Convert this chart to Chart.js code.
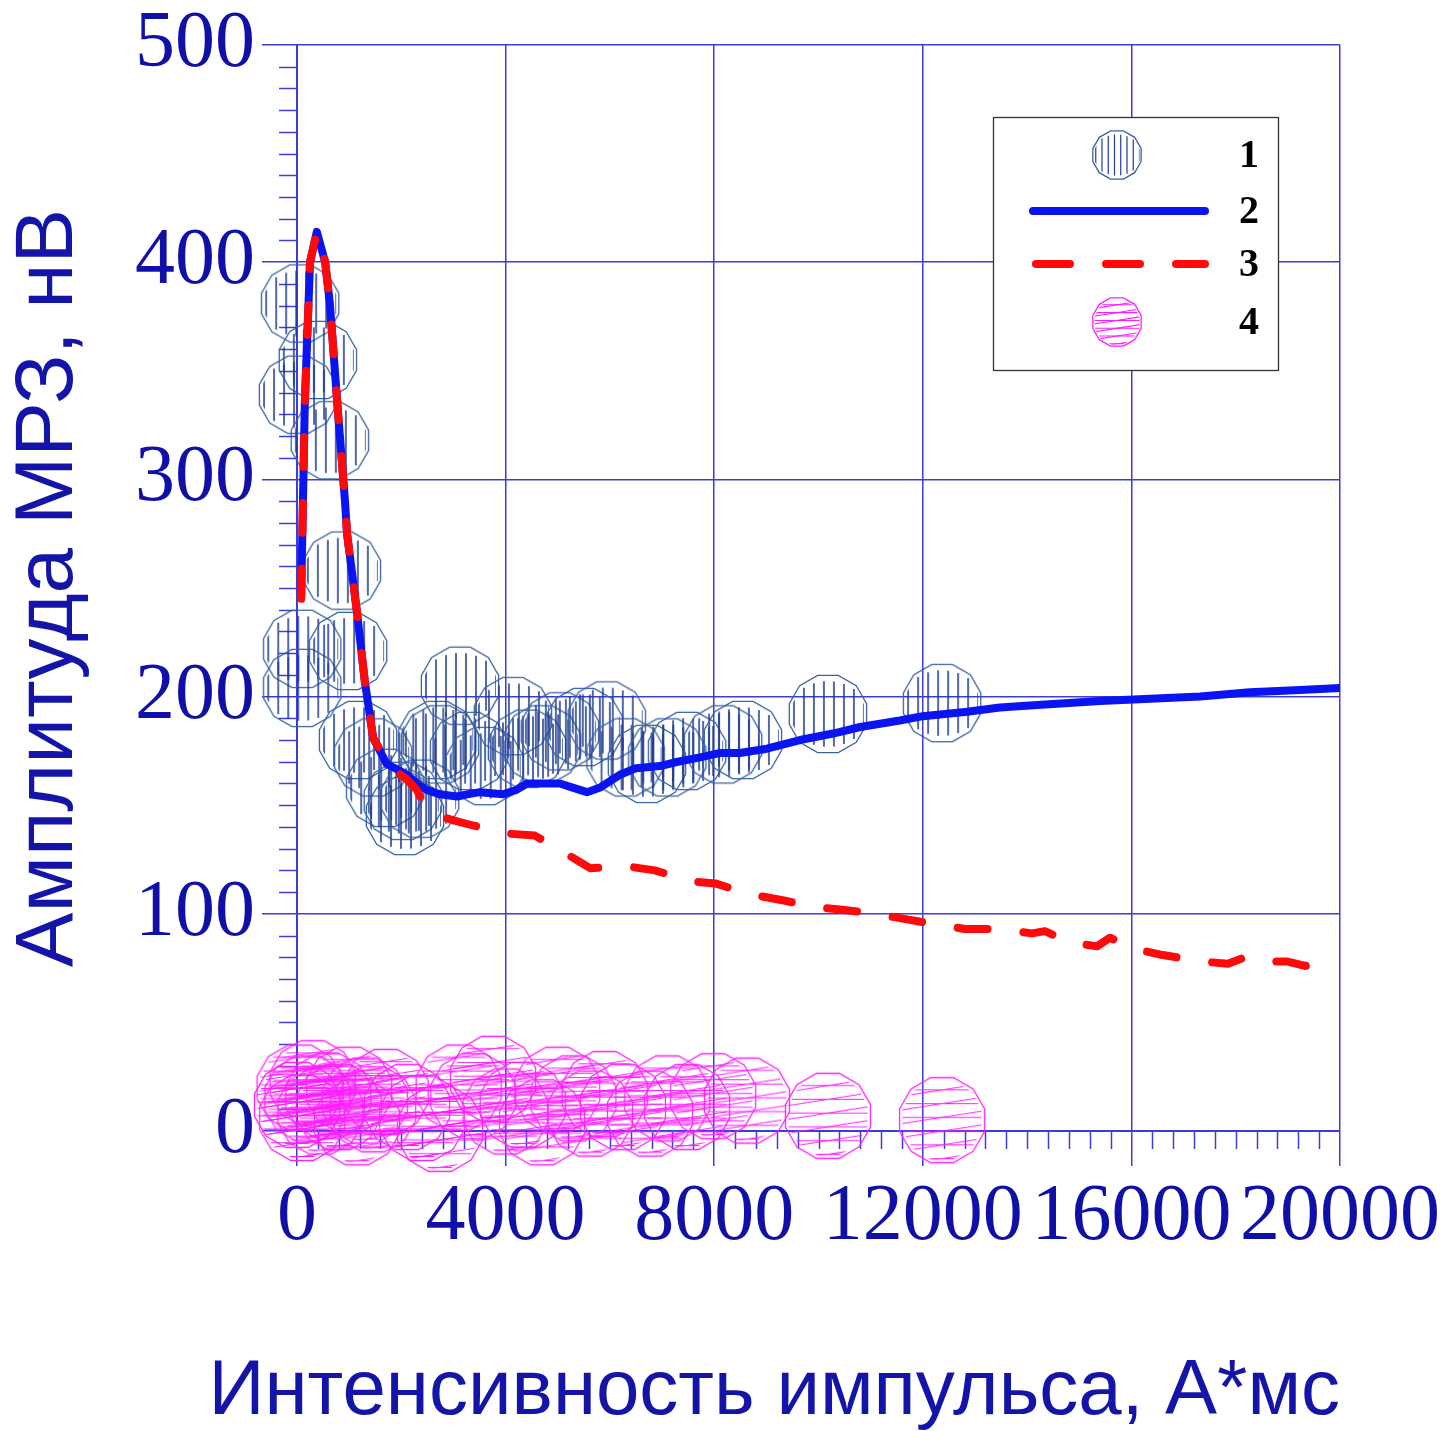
<!DOCTYPE html>
<html><head><meta charset="utf-8">
<script src="https://cdn.jsdelivr.net/npm/chart.js@4.4.1/dist/chart.umd.min.js"></script>
<style>html,body{margin:0;padding:0;background:#fff;}</style>
</head><body>
<canvas id="c" width="1441" height="1431"></canvas>
<script>
// ---- data ----
const xTitle = "Интенсивность импульса, А*мс";
const yTitle = "Амплитуда МРЗ, нВ";
const legendLabels = ["1", "2", "3", "4"];
const xRange = [0, 20000], xStep = 4000, xMinorStep = 400;
const yRange = [0, 500], yStep = 100, yMinorStep = 10;

// series 1: hatched blue circles
const s1X = [60,400,20,630,860,100,100,980,1170,1460,1690,2030,2070,2360,2690,2740,3125,3300,3600,4140,4410,4700,5040,5500,5940,6300,6710,7100,7480,8170,8550,10180,12370];
const s1Y = [381,355,339,318,258,222,204,221,180,172,158,152,145,153,180,178,205,175,168,191,176,178,184,186,189,172,169,172,175,178,180,192,197];
// series 2: solid blue line
const s2X = [80,150,250,380,540,630,770,920,960,1150,1300,1460,1590,1720,1880,2110,2300,2490,2740,3070,3260,3510,3950,4200,4410,4600,5040,5300,5560,5800,6190,6500,6960,7300,7730,8100,8490,9010,9645,10280,10800,11560,12000,12850,13480,14120,14800,15400,16360,17320,18270,19230,20000];
const s2Y = [247,335,400,414,400,381,336,290,275,239,207,181,175,169,167,164,160,157,155,154,155,156,155,157,160,160,160,158,156,158,164,167,168,170,172,174,174,176,180,183,186,189,191,193,195,196,197,198,199,200,202,203,204];
// series 3: dashed red line
const s3X = [80,150,250,380,540,630,770,920,960,1150,1300,1460,1530,1820,2100,2300,2420,2740,3000,3320,3990,4560,5140,5620,6290,6860,7540,8020,8690,9360,9930,10410,11080,11560,12290,12810,13400,14094,14343,14803,15340,15590,16030,16600,17120,17370,17850,18180,18520,19000,19330,19710];
const s3Y = [245,335,400,414,400,381,336,290,275,239,207,181,178,167,162,157,151,145,143,141,137,136,128,121,122,120,115,114,109,106,103,102,100,98,95,93,93,91,92,87,85,89,84,81,79,78,77,80,78,78,76,77];
// series 4: hatched magenta circles
const s4X = [0,50,100,200,300,450,600,800,1000,1150,1300,1460,1700,2110,2400,2740,3100,3380,3760,4000,4330,4700,4990,5300,5620,5900,6250,6770,7100,7480,7980,8630,10180,12370];
const s4Y = [12,20,6,15,22,9,16,11,19,4,14,10,18,11,6,1,20,16,24,9,12,4,19,15,8,17,11,8,15,11,16,14,7,5];

const pts = (xs, ys) => xs.map((x, i) => ({x, y: ys[i]}));

// ---- styles ----
const GRID = '#3c3cdc';
const TICKCOL = '#1010a8';
const TITLECOL = '#1414a8';

function polyPath(ctx, cx, cy, r) {
  ctx.beginPath();
  for (let k = 0; k < 12; k++) {
    const a = (15 + 30 * k) * Math.PI / 180;
    const px = cx + r * Math.cos(a), py = cy + r * Math.sin(a);
    if (k === 0) ctx.moveTo(px, py); else ctx.lineTo(px, py);
  }
  ctx.closePath();
}
function makeMarker(r, kind) {
  const c = document.createElement('canvas');
  const s = Math.ceil(2 * r + 6);
  c.width = s; c.height = s;
  const ctx = c.getContext('2d');
  const cx = s / 2, cy = s / 2;
  ctx.save();
  polyPath(ctx, cx, cy, r * 0.93);
  ctx.clip();
  if (kind === 'blue') {
    ctx.strokeStyle = '#1f3c92';
    ctx.lineWidth = Math.max(1.2, r / 26);
    const sp = r / 4;
    for (let x = -r + sp * 0.6; x < r; x += sp) {
      const h = Math.sqrt(Math.max(0, r * r - x * x)) * 0.82;
      ctx.beginPath(); ctx.moveTo(cx + x, cy - h); ctx.lineTo(cx + x, cy + h); ctx.stroke();
    }
  } else {
    ctx.strokeStyle = '#ff1cff';
    ctx.lineWidth = 1.1;
    const sp = r / 3.2;
    for (let y = -r; y < r + sp; y += sp) {
      ctx.beginPath(); ctx.moveTo(cx - r, cy + y); ctx.lineTo(cx + r, cy + y); ctx.stroke();
      ctx.beginPath(); ctx.moveTo(cx - r, cy + y + sp * 0.5); ctx.lineTo(cx + r, cy + y - sp * 0.5); ctx.stroke();
    }
  }
  ctx.restore();
  polyPath(ctx, cx, cy, r);
  ctx.strokeStyle = kind === 'blue' ? '#3a62a2' : '#ff22ff';
  ctx.lineWidth = 1.3;
  ctx.stroke();
  return c;
}
const blueMarker = makeMarker(40, 'blue');
const magMarker = makeMarker(44, 'mag');
const blueMarkerL = makeMarker(25, 'blue');
const magMarkerL = makeMarker(25, 'mag');

const minorTicks = {
  id: 'minorTicks',
  beforeDatasetsDraw(chart) {
    const {ctx, scales: {x, y}, chartArea: a} = chart;
    ctx.save();
    ctx.strokeStyle = GRID; ctx.lineWidth = 1.5;
    for (let v = yRange[0]; v <= yRange[1]; v += yMinorStep) {
      if (v % yStep === 0) continue;
      const py = Math.round(y.getPixelForValue(v)) + 0.5;
      ctx.beginPath(); ctx.moveTo(a.left - 18, py); ctx.lineTo(a.left, py); ctx.stroke();
    }
    for (let v = xRange[0]; v <= xRange[1]; v += xMinorStep) {
      if (v % xStep === 0) continue;
      const px = Math.round(x.getPixelForValue(v)) + 0.5;
      ctx.beginPath(); ctx.moveTo(px, a.bottom); ctx.lineTo(px, a.bottom + 18); ctx.stroke();
    }
    ctx.restore();
  }
};

const customLegend = {
  id: 'customLegend',
  afterDraw(chart) {
    const {ctx, chartArea: a} = chart;
    const L = a.left + 696, T = a.top + 72, W = 285, H = 253;
    ctx.save();
    ctx.fillStyle = '#fff';
    ctx.fillRect(L, T, W, H);
    ctx.strokeStyle = '#333'; ctx.lineWidth = 1.3;
    ctx.strokeRect(L + 0.5, T + 0.5, W, H);
    const mx = L + 124;
    const rows = [T + 38, T + 94, T + 147, T + 205];
    ctx.drawImage(blueMarkerL, mx - blueMarkerL.width / 2, rows[0] - blueMarkerL.height / 2);
    ctx.lineCap = 'round';
    ctx.lineWidth = 8;
    ctx.strokeStyle = '#0a14f0';
    ctx.beginPath(); ctx.moveTo(L + 40, rows[1]); ctx.lineTo(L + 212, rows[1]); ctx.stroke();
    ctx.strokeStyle = '#ff0a0a';
    ctx.setLineDash([34, 36]);
    ctx.beginPath(); ctx.moveTo(L + 43, rows[2]); ctx.lineTo(L + 212, rows[2]); ctx.stroke();
    ctx.setLineDash([]);
    ctx.drawImage(magMarkerL, mx - magMarkerL.width / 2, rows[3] - magMarkerL.height / 2);
    ctx.fillStyle = '#000';
    ctx.font = 'bold 40px "Liberation Serif"';
    ctx.textAlign = 'center'; ctx.textBaseline = 'middle';
    legendLabels.forEach((t, i) => ctx.fillText(t, L + 256, rows[i] + 2));
    ctx.restore();
  }
};

new Chart(document.getElementById('c'), {
  type: 'scatter',
  data: {
    datasets: [
      { label: legendLabels[2], type: 'line', data: pts(s3X, s3Y), borderColor: '#ff0a0a', borderWidth: 8,
        borderDash: [30, 36], borderCapStyle: 'round', borderJoinStyle: 'round', pointRadius: 0, fill: false, order: 0, tension: 0 },
      { label: legendLabels[1], type: 'line', data: pts(s2X, s2Y), borderColor: '#0a14f0', borderWidth: 8,
        borderCapStyle: 'round', borderJoinStyle: 'round', pointRadius: 0, fill: false, order: 1, tension: 0 },
      { label: legendLabels[0], data: pts(s1X, s1Y), pointStyle: blueMarker, pointRadius: 40, clip: false, order: 2 },
      { label: legendLabels[3], data: pts(s4X, s4Y), pointStyle: magMarker, pointRadius: 44, clip: false, order: 3 }
    ]
  },
  options: {
    responsive: false, animation: false, devicePixelRatio: 1,
    layout: { padding: { left: 0, right: 101, top: 42, bottom: 0 } },
    plugins: {
      legend: { display: false }, tooltip: { enabled: false },
      title: { display: true, text: xTitle, position: 'bottom', align: 'end', color: TITLECOL, padding: 0,
        font: { family: 'Liberation Sans', size: 78, weight: 'normal', lineHeight: 1 } }
    },
    scales: {
      x: {
        type: 'linear', min: xRange[0], max: xRange[1],
        ticks: { stepSize: xStep, color: TICKCOL, padding: 12, maxRotation: 0, minRotation: 0, autoSkip: false,
          callback: v => String(v), font: { family: 'Liberation Serif', size: 80, lineHeight: 1 } },
        grid: { color: GRID, lineWidth: 1.5, tickLength: 35 },
        border: { color: GRID, width: 2 },
        title: { display: false },
        afterFit(s) { s.height = 1431 - 1131 - 78; s.paddingLeft = 0; s.paddingRight = 0; }
      },
      y: {
        type: 'linear', min: yRange[0], max: yRange[1],
        ticks: { stepSize: yStep, color: TICKCOL, padding: 7, callback: v => String(v), font: { family: 'Liberation Serif', size: 80, lineHeight: 1 } },
        grid: { color: GRID, lineWidth: 1.5, tickLength: 35 },
        border: { color: GRID, width: 2 },
        title: { display: true, text: yTitle, color: TITLECOL, padding: 0, font: { family: 'Liberation Sans', size: 82 } },
        afterFit(s) { s.width = 297; s.paddingTop = 0; s.paddingBottom = 0; }
      }
    }
  },
  plugins: [minorTicks, customLegend]
});
</script>
</body></html>
